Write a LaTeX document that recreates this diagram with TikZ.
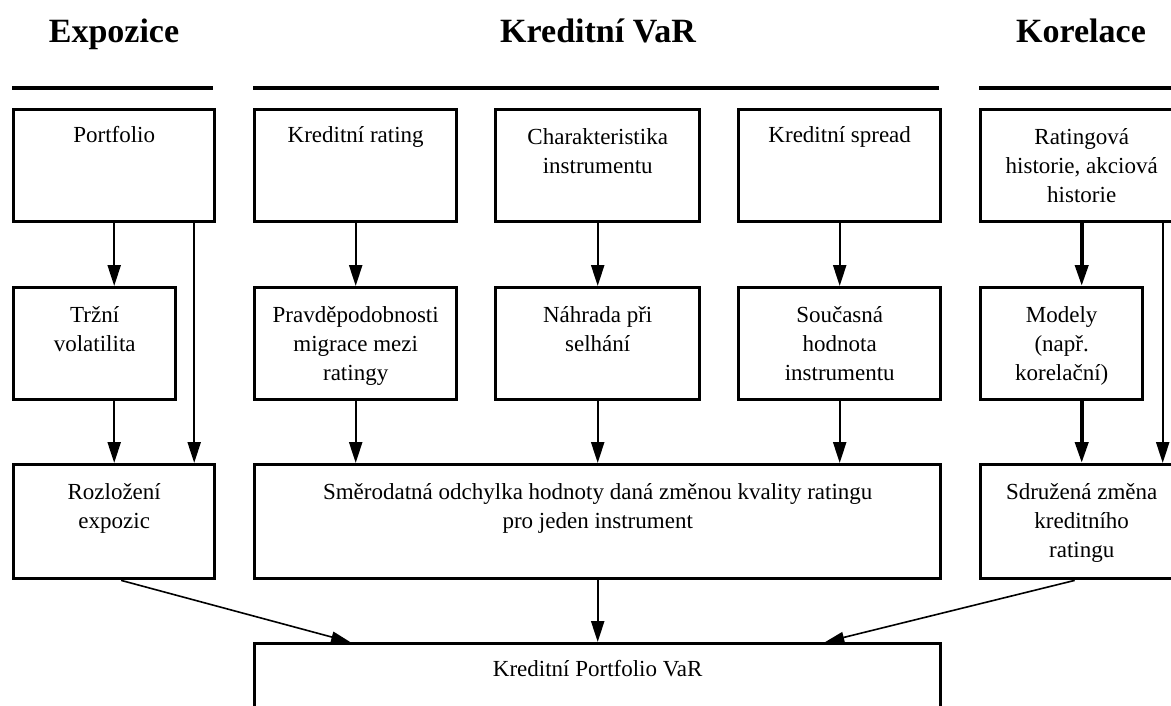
\documentclass[tikz,border=0pt]{standalone}
\usepackage{fontspec}
\setmainfont{Liberation Serif}
\usetikzlibrary{arrows.meta,calc}
\begin{document}
\begin{tikzpicture}[x=1pt,y=-1pt,
  box/.style={draw, line width=3.4pt, anchor=north west, inner sep=0pt},
  txt/.style={anchor=north, inner sep=0pt, align=center,
    font=\fontsize{23}{29}\selectfont, execute at begin node=\strut},
  one/.style={txt, yshift=-14pt},
  multi/.style={txt, yshift=-20pt},
  title/.style={anchor=base, inner sep=0pt, font=\fontsize{34}{40}\selectfont\bfseries},
  rule/.style={line width=4.5pt},
  conn/.style={line width=2.4pt, -{Triangle[length=21pt,width=13pt]}},
  thickconn/.style={line width=4pt, -{Triangle[length=21pt,width=13pt]}},
  diag/.style={line width=1.6pt, -{Triangle[length=19pt,width=11pt]}}
]
\useasboundingbox (0,0) rectangle (1171,706);
\clip (0,0) rectangle (1171,706);

% titles
\node[title] (tExp) at (114,43) {Expozice};
\node[title] (tKVaR) at (598,43) {Kreditní VaR};
\node[title] (tKor) at (1081,43) {Korelace};

% rules
\draw[rule] (12,88) -- (213,88);
\draw[rule] (253,88) -- (939,88);
\draw[rule] (979,88) -- (1180,88);

% row 1
\node[box, minimum width=201pt, minimum height=112pt] (portf) at (12,108) {};
\node[box, minimum width=202pt, minimum height=112pt] (kred) at (253,108) {};
\node[box, minimum width=204pt, minimum height=112pt] (char) at (494,108) {};
\node[box, minimum width=202pt, minimum height=112pt] (spread) at (737,108) {};
\node[box, minimum width=202pt, minimum height=112pt] (rhist) at (979,108) {};

% row 2
\node[box, minimum width=162pt, minimum height=112pt] (trzni) at (12,286) {};
\node[box, minimum width=202pt, minimum height=112pt] (prav) at (253,286) {};
\node[box, minimum width=204pt, minimum height=112pt] (nahr) at (494,286) {};
\node[box, minimum width=202pt, minimum height=112pt] (soucas) at (737,286) {};
\node[box, minimum width=162pt, minimum height=112pt] (modely) at (979,286) {};

% row 3
\node[box, minimum width=201pt, minimum height=114pt] (rozl) at (12,463) {};
\node[box, minimum width=686pt, minimum height=114pt] (smer) at (253,463) {};
\node[box, minimum width=202pt, minimum height=114pt] (sdr) at (979,463) {};

% row 4
\node[box, minimum width=686pt, minimum height=120pt] (var) at (253,642) {};

% texts
\node[one] (portfT) at (portf.north) {Portfolio};
\node[one] (kredT) at (kred.north) {Kreditní rating};
\node[multi] (charT) at (char.north) {Charakteristika\\instrumentu};
\node[one] (spreadT) at (spread.north) {Kreditní spread};
\node[multi] (rhistT) at (rhist.north) {Ratingová\\historie, akciová\\historie};

\node[multi] (trzniT) at (trzni.north) {Tržní\\volatilita};
\node[multi] (pravT) at (prav.north) {Pravděpodobnosti\\migrace mezi\\ratingy};
\node[multi] (nahrT) at (nahr.north) {Náhrada při\\selhání};
\node[multi] (soucasT) at (soucas.north) {Současná\\hodnota\\instrumentu};
\node[multi] (modelyT) at (modely.north) {Modely\\(např.\\korelační)};

\node[multi] (rozlT) at (rozl.north) {Rozložení\\expozic};
\node[multi] (smerT) at (smer.north) {Směrodatná odchylka hodnoty daná změnou kvality ratingu\\pro jeden instrument};
\node[multi] (sdrT) at (sdr.north) {Sdružená změna\\kreditního\\ratingu};

\node[one] (varT) at (var.north) {Kreditní Portfolio VaR};

% connectors column A
\draw[conn] (portf.south) -- (portf.south |- trzni.north);
\coordinate (pr) at ($(portf.south)+(80,0)$);
\draw[conn] (pr) -- (pr |- rozl.north);
\draw[conn] (trzni.south -| portf.south) -- (rozl.north);

% column B
\draw[conn] (kred.south) -- (prav.north);
\draw[conn] (prav.south) -- (prav.south |- smer.north);
% column C
\draw[conn] (char.south) -- (nahr.north);
\draw[conn] (nahr.south) -- (nahr.south |- smer.north);
% column D
\draw[conn] (spread.south) -- (soucas.north);
\draw[conn] (soucas.south) -- (soucas.south |- smer.north);
% column E
\draw[thickconn] (rhist.south) -- (rhist.south |- modely.north);
\draw[thickconn] (modely.south -| rhist.south) -- (sdr.north);
\coordinate (rr) at ($(rhist.south)+(81,0)$);
\draw[conn] (rr) -- (rr |- sdr.north);

% to final box
\draw[conn] (smer.south) -- (var.north);
\draw[diag] ($(rozl.south)+(7,0)$) -- ($(var.north west)!0.141!(var.north east)$);
\draw[diag] ($(sdr.south)+(-7,0)$) -- ($(var.north west)!0.83!(var.north east)$);
\end{tikzpicture}
\end{document}
